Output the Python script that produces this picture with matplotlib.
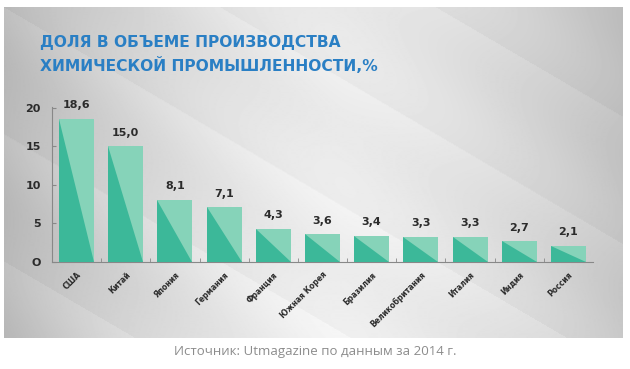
import numpy as np
import matplotlib.pyplot as plt
from matplotlib.patches import Polygon

countries = ['США', 'Китай', 'Япония', 'Германия', 'Франция', 'Южная Корея',
             'Бразилия', 'Великобритания', 'Италия', 'Индия', 'Россия']
shares = [18.6, 15.0, 8.1, 7.1, 4.3, 3.6, 3.4, 3.3, 3.3, 2.7, 2.1]
value_labels = ['18,6', '15,0', '8,1', '7,1', '4,3', '3,6', '3,4', '3,3', '3,3', '2,7', '2,1']

light = '#86d3b9'
dark = '#3cb899'
title_col = '#2a7fc4'

fig = plt.figure(figsize=(6.3, 3.69), dpi=100)
fig.patch.set_facecolor('white')

# gray panel with soft diagonal bands
bg = fig.add_axes([4/630, 31/369, 619/630, 331/369])
bg.set_axis_off()
W, H = 620, 330
xx, yy = np.meshgrid(np.linspace(0, 1, W), np.linspace(0, 1, H))
base = 0.94 - 0.55 * np.abs(xx - 0.55) ** 1.6 - 0.05 * (1 - yy) * xx
d = xx * 1.1 - yy
frac = (d * 2.6) % 1.0
bands = 0.03 * frac - 0.015
stripes = bands + 0.01 * np.sin(d * 15.0 + 1.0)
img = np.clip(base + stripes, 0, 1)
bg.imshow(img, cmap='gray', vmin=0, vmax=1, aspect='auto', extent=[0, 1, 0, 1])

ax = fig.add_axes([52/630, 107/369, 541/630, 155/369])
ax.patch.set_alpha(0)
x = np.arange(len(countries))
w = 0.71
ax.bar(x, shares, width=w, color=light, zorder=2)
for xi, v in zip(x, shares):
    tri = Polygon([(xi - w/2, v), (xi - w/2, 0), (xi + w/2, 0)],
                  closed=True, facecolor=dark, edgecolor='none', zorder=3)
    ax.add_patch(tri)
for xi, v, lab in zip(x, shares, value_labels):
    ax.text(xi, v + 1.1, lab, ha='center', va='bottom', fontsize=8,
            fontweight='bold', color='#2b2b2b', family='DejaVu Sans')

ax.set_xlim(-0.5, 10.5)
ax.set_ylim(0, 20.1)
ax.set_yticks([0, 5, 10, 15, 20])
ax.set_yticklabels(['O', '5', '10', '15', '20'], fontsize=8, fontweight='bold', color='#2b2b2b')
ax.set_xticks(x)
ax.set_xticklabels(countries, rotation=45, ha='right', va='top', rotation_mode='anchor',
                   fontsize=5.5, fontweight='bold', color='#2b2b2b')
ax.set_xticks(x[:-1] + 0.5, minor=True)
ax.tick_params(axis='x', which='major', length=0, pad=6)
ax.tick_params(axis='x', which='minor', length=3, direction='in', color='#888888')
ax.tick_params(axis='y', length=3, direction='in', color='#888888', pad=8)
for s in ['top', 'right']:
    ax.spines[s].set_visible(False)
for s in ['left', 'bottom']:
    ax.spines[s].set_color('#888888')
    ax.spines[s].set_linewidth(0.8)

fig.text(40/630, 1 - 47/369, 'ДОЛЯ В ОБЪЕМЕ ПРОИЗВОДСТВА', fontsize=11.2, fontweight='bold',
         color=title_col, ha='left', va='baseline')
fig.text(40/630, 1 - 71/369, 'ХИМИЧЕСКОЙ ПРОМЫШЛЕННОСТИ,%', fontsize=11.2, fontweight='bold',
         color=title_col, ha='left', va='baseline')

fig.text(0.5, 1 - 352/369, 'Источник: Utmagazine по данным за 2014 г.', fontsize=9.5,
         color='#8c8c8c', ha='center', va='center', family='Open Sans')

fig.savefig('out.png', dpi=100)
